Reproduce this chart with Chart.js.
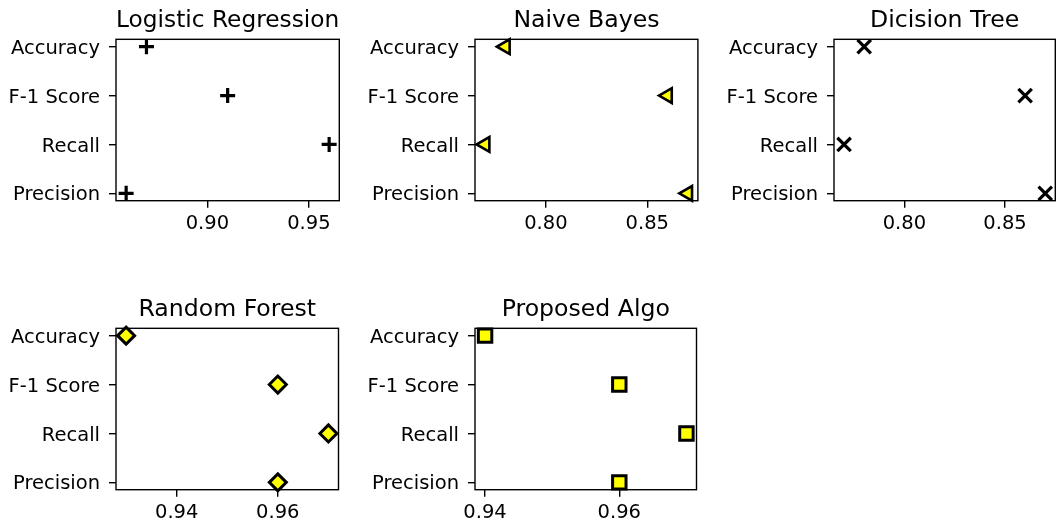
<!DOCTYPE html>
<html>
<head>
<meta charset="utf-8">
<title>Model metrics</title>
<script src="https://cdn.jsdelivr.net/npm/chart.js@4.4.1/dist/chart.umd.min.js"></script>
<style>
  html, body { margin: 0; padding: 0; background: #fff; }
  body { width: 1056px; height: 526px; position: relative; overflow: hidden; }
  .panel { position: absolute; width: 350px; height: 250px; }
</style>
</head>
<body>
<div class="panel" style="left:0px;top:0px"><canvas id="lr"></canvas></div>
<div class="panel" style="left:359px;top:0px"><canvas id="nb"></canvas></div>
<div class="panel" style="left:718px;top:0px"><canvas id="dt"></canvas></div>
<div class="panel" style="left:0px;top:289px"><canvas id="rf"></canvas></div>
<div class="panel" style="left:359px;top:289px"><canvas id="pa"></canvas></div>
<script>
(function () {
    "use strict";

    // Data (top to bottom on the y axis)
    var metrics = ["Accuracy", "F-1 Score", "Recall", "Precision"];

    var logReg = [0.87, 0.91, 0.96, 0.86];
    var naiveBayes = [0.78, 0.86, 0.77, 0.87];
    var decisionTree = [0.78, 0.86, 0.77, 0.87];
    var randomForest = [0.93, 0.96, 0.97, 0.96];
    var proposedAlgo = [0.94, 0.96, 0.97, 0.96];

    var lrTicks = [0.90, 0.95];
    var nbTicks = [0.80, 0.85];
    var dtTicks = [0.80, 0.85];
    var rfTicks = [0.94, 0.96];
    var paTicks = [0.94, 0.96];

    var font = "'DejaVu Sans', 'Liberation Sans', sans-serif";

    // Box around the plot area, like matplotlib spines
    var frame = {
        id: 'frame',
        afterDatasetsDraw: function (chart) {
            var a = chart.chartArea, ctx = chart.ctx;
            ctx.save();
            ctx.strokeStyle = '#000';
            ctx.lineWidth = 1.4;
            ctx.strokeRect(a.left, a.top, a.right - a.left, a.bottom - a.top);
            ctx.restore();
        }
    };

    function panel(id, title, values, xTicks, marker) {
        var lo = Math.min.apply(null, values), hi = Math.max.apply(null, values);
        var pad = (hi - lo) * 0.05;
        var ctx = document.getElementById(id).getContext('2d');
        return new Chart(ctx, {
            type: 'scatter',
            data: {
                datasets: [{
                    data: values.map(function (v, i) { return { x: v, y: i }; }),
                    pointStyle: marker.style,
                    pointRadius: marker.radius,
                    pointRotation: marker.rotation || 0,
                    pointBackgroundColor: marker.fill,
                    pointBorderColor: '#000',
                    pointBorderWidth: marker.border,
                    clip: false
                }]
            },
            options: {
                responsive: true,
                maintainAspectRatio: false,
                animation: false,
                layout: { padding: { left: 0, right: 9.5, top: 0, bottom: 0 } },
                plugins: {
                    legend: { display: false },
                    tooltip: { enabled: false },
                    title: {
                        display: true,
                        text: title,
                        fullSize: false,
                        color: '#000',
                        font: { family: font, size: 23.6, weight: 'normal' },
                        padding: { top: 7.1, bottom: 3.9 }
                    }
                },
                scales: {
                    x: {
                        type: 'linear',
                        min: lo - pad,
                        max: hi + pad,
                        afterBuildTicks: function (scale) {
                            scale.ticks = xTicks.map(function (v) { return { value: v }; });
                        },
                        afterFit: function (scale) { scale.height = 49.3; },
                        ticks: {
                            color: '#000',
                            font: { family: font, size: 19.5 },
                            padding: 5,
                            maxRotation: 0,
                            callback: function (v) { return Number(v).toFixed(2); }
                        },
                        grid: { drawOnChartArea: false, color: '#000', lineWidth: 1.4, tickLength: 7 },
                        border: { display: false }
                    },
                    y: {
                        type: 'linear',
                        reverse: true,
                        min: -0.15,
                        max: metrics.length - 1 + 0.15,
                        afterBuildTicks: function (scale) {
                            scale.ticks = metrics.map(function (m, i) { return { value: i }; });
                        },
                        afterFit: function (scale) { scale.width = 116; },
                        ticks: {
                            color: '#000',
                            font: { family: font, size: 19.5 },
                            padding: 9,
                            labelOffset: 2,
                            callback: function (v) { return metrics[v]; }
                        },
                        grid: { drawOnChartArea: false, color: '#000', lineWidth: 1.4, tickLength: 7 },
                        border: { display: false }
                    }
                }
            },
            plugins: [frame]
        });
    }

    panel('lr', 'Logistic Regression', logReg, lrTicks,
        { style: 'cross', radius: 7.5, fill: '#000', border: 3.2 });
    panel('nb', 'Naive Bayes', naiveBayes, nbTicks,
        { style: 'triangle', radius: 8.5, rotation: -90, fill: '#ffff00', border: 2.6 });
    panel('dt', 'Dicision Tree', decisionTree, dtTicks,
        { style: 'crossRot', radius: 9.5, fill: '#000', border: 3.2 });
    panel('rf', 'Random Forest', randomForest, rfTicks,
        { style: 'rectRot', radius: 8.5, fill: '#ffff00', border: 3 });
    panel('pa', 'Proposed Algo', proposedAlgo, paTicks,
        { style: 'rect', radius: 9.5, fill: '#ffff00', border: 3 });
})();
</script>
</body>
</html>
